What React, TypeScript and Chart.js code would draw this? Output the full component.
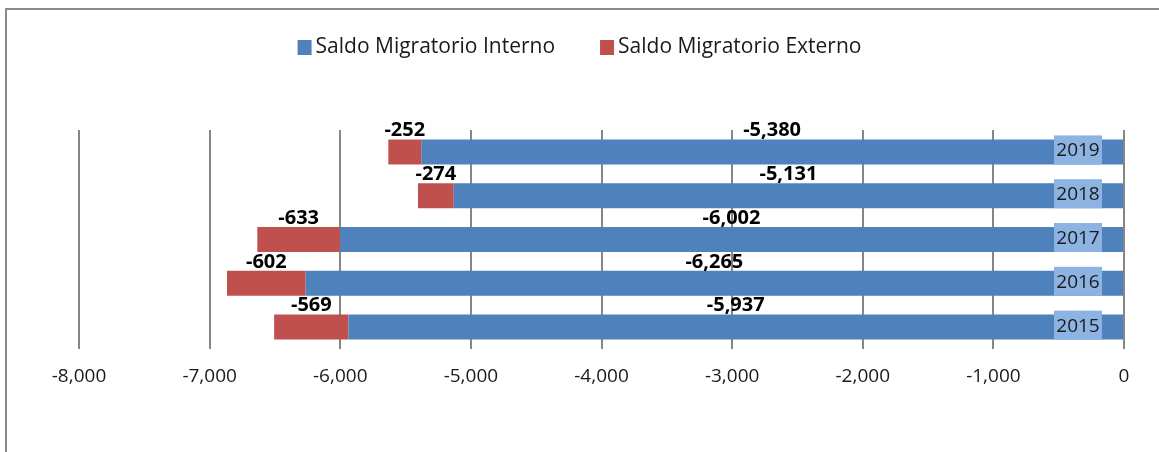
import React, { useEffect, useRef } from "react";
import { Chart, registerables } from "chart.js";

Chart.register(...registerables);

const years = ["2019", "2018", "2017", "2016", "2015"];
const interno = [-5380, -5131, -6002, -6265, -5937];
const externo = [-252, -274, -633, -602, -569];
const seriesNames = ["Saldo Migratorio Interno", "Saldo Migratorio Externo"];
const xMin = -8000;
const xMax = 0;
const xStep = 1000;

const BLUE = "#4F81BD";
const RED = "#C0504D";
const FONT = "'Open Sans', Lato, sans-serif";

const fmt = (v: number) => v.toLocaleString("en-US");

const labelPlugin = {
  id: "customLabels",
  afterDatasetsDraw(chart: any) {
    const ctx = chart.ctx;
    const area = chart.chartArea;
    ctx.save();
    ctx.font = `bold 20px ${FONT}`;
    ctx.fillStyle = "#000";
    ctx.textAlign = "center";
    ctx.textBaseline = "middle";
    chart.data.datasets.forEach((ds: any, di: number) => {
      const meta = chart.getDatasetMeta(di);
      meta.data.forEach((el: any, i: number) => {
        const cx = (el.x + el.base) / 2;
        const top = el.y - el.height / 2;
        ctx.fillText(fmt(ds.data[i]), cx, top - 9);
      });
    });
    const meta0 = chart.getDatasetMeta(0);
    ctx.font = `19px ${FONT}`;
    meta0.data.forEach((el: any, i: number) => {
      const top = el.y - el.height / 2 - 4;
      const bottom = el.y + el.height / 2;
      const left = area.right - 70;
      const w = 48;
      ctx.fillStyle = "#8DB3E2";
      ctx.fillRect(left, top, w, bottom - top);
      ctx.fillStyle = "#1a1a1a";
      ctx.fillText(chart.data.labels[i], left + w / 2, (top + bottom) / 2 + 1);
    });
    ctx.restore();
  },
  afterDraw(chart: any) {
    const ctx = chart.ctx;
    ctx.save();
    ctx.font = `21px ${FONT}`;
    ctx.textBaseline = "middle";
    ctx.textAlign = "left";
    const colors = [BLUE, RED];
    const widths = seriesNames.map((n) => ctx.measureText(n).width);
    const box = 14;
    const gapText = 4;
    const gapItem = 45;
    const total = widths.reduce((a, b) => a + b, 0) + 2 * (box + gapText) + gapItem;
    let x = chart.width / 2 - total / 2;
    const y = 47;
    seriesNames.forEach((n, i) => {
      ctx.fillStyle = colors[i];
      ctx.fillRect(x, y - 7, box, 15);
      x += box + gapText;
      ctx.fillStyle = "#1a1a1a";
      ctx.fillText(n, x, y);
      x += widths[i] + gapItem;
    });
    ctx.restore();
  },
};

export default function App() {
  const ref = useRef<HTMLCanvasElement>(null);
  useEffect(() => {
    if (!ref.current) return;
    const chart = new Chart(ref.current, {
      type: "bar",
      data: {
        labels: years,
        datasets: [
          {
            label: seriesNames[0],
            data: interno,
            backgroundColor: BLUE,
            barPercentage: 0.57,
            categoryPercentage: 1,
          },
          {
            label: seriesNames[1],
            data: externo,
            backgroundColor: RED,
            barPercentage: 0.57,
            categoryPercentage: 1,
          },
        ],
      },
      options: {
        indexAxis: "y",
        animation: false,
        responsive: false,
        maintainAspectRatio: false,
        layout: { padding: { left: 79, right: 35, top: 130, bottom: 0 } },
        plugins: { legend: { display: false }, tooltip: { enabled: false } },
        scales: {
          x: {
            stacked: true,
            min: xMin,
            max: xMax,
            ticks: {
              stepSize: xStep,
              padding: 16,
              color: "#1a1a1a",
              font: { family: FONT, size: 19 },
              callback: (v: any) => fmt(Number(v)),
            },
            grid: { color: "#868686", lineWidth: 2, drawTicks: false },
            border: { display: false },
            afterFit: (s: any) => {
              s.height = 103;
            },
          },
          y: {
            stacked: true,
            display: false,
          },
        },
      },
      plugins: [labelPlugin],
    } as any);
    return () => chart.destroy();
  }, []);
  return (
    <div style={{ position: "absolute", left: 0, top: 0, width: 1159, height: 452, background: "#fff", overflow: "hidden" }}>
      <div
        style={{
          position: "absolute",
          left: 5,
          top: 8,
          width: 1200,
          height: 500,
          borderLeft: "2px solid #8a8a8a",
          borderTop: "2px solid #8a8a8a",
        }}
      />
      <canvas ref={ref} width={1159} height={452} style={{ position: "absolute", left: 0, top: 0, width: 1159, height: 452 }} />
    </div>
  );
}
